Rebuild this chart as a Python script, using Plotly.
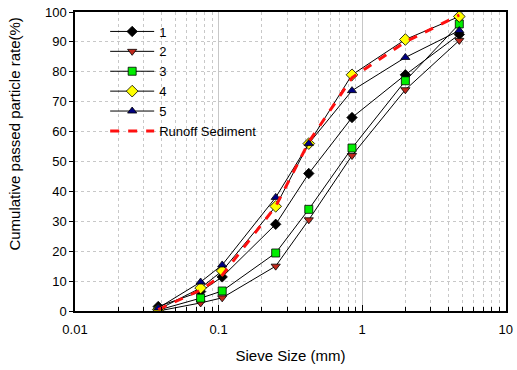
import plotly.graph_objects as go

sieve_mm = [0.038, 0.075, 0.106, 0.25, 0.425, 0.85, 2.0, 4.75]

s1 = [1.5, 6.5, 11.4, 29.0, 46.0, 64.7, 79.0, 92.5]
s2 = [0.0, 2.7, 4.4, 15.0, 30.5, 52.0, 74.0, 90.5]
s3 = [0.3, 4.3, 6.7, 19.4, 34.0, 54.5, 77.0, 96.0]
s4 = [0.5, 7.7, 13.4, 35.0, 56.0, 79.0, 90.8, 98.5]
s5 = [1.0, 9.7, 15.4, 38.0, 56.0, 73.7, 84.8, 93.8]
runoff = [0.5, 7.0, 12.0, 35.0, 56.5, 78.0, 90.0, 99.0]

x_tick_vals = [0.01, 0.1, 1, 10]
x_tick_text = ["0.01", "0.1", "1", "10"]

series = [
    ("1", s1, "diamond", "#000000", 8),
    ("2", s2, "triangle-down", "#c0281c", 8),
    ("3", s3, "square", "#00ee00", 8),
    ("4", s4, "diamond", "#ffff00", 9),
    ("5", s5, "triangle-up", "#000080", 8),
]

fig = go.Figure()
for name, vals, sym, col, size in series:
    fig.add_trace(go.Scatter(
        x=sieve_mm, y=vals, name=name, mode="lines+markers",
        line=dict(color="black", width=1),
        marker=dict(symbol=sym, color=col, size=size,
                    line=dict(color="black", width=0.8)),
    ))

fig.add_trace(go.Scatter(
    x=sieve_mm, y=runoff, name="Runoff Sediment", mode="lines",
    line=dict(color="#ff1010", width=3, dash="dash"),
))

font = dict(family="Liberation Sans, Arial, sans-serif", size=13, color="black")

fig.update_layout(
    width=517, height=370,
    margin=dict(l=75, r=4, t=12, b=59),
    paper_bgcolor="white", plot_bgcolor="white",
    font=font,
    showlegend=True,
    legend=dict(x=0.07, y=0.985, xanchor="left", yanchor="top",
                bgcolor="rgba(0,0,0,0)", font=dict(size=13),
                tracegroupgap=0, itemwidth=44),
    xaxis=dict(
        type="log", range=[-2, 1.002],
        tickvals=x_tick_vals, ticktext=x_tick_text,
        ticklabeloverflow="allow",
        showgrid=True, gridcolor="#c8c8c8", gridwidth=1,
        showline=True, linecolor="black", linewidth=1.5, mirror=True,
        ticks="inside", ticklen=6, tickcolor="black",
        ticklabelstandoff=6,
        minor=dict(dtick="D1", showgrid=True, gridcolor="#c8c8c8",
                   griddash="dot", ticks="inside", ticklen=4, tickcolor="black"),
        title=dict(text="Sieve Size (mm)", standoff=14, font=dict(size=15)),
        zeroline=False,
    ),
    yaxis=dict(
        range=[0, 100], dtick=10,
        showgrid=True, gridcolor="#c8c8c8", griddash="dot",
        showline=True, linecolor="black", linewidth=1.5, mirror=True,
        ticks="outside", ticklen=4, tickcolor="black",
        tickfont=dict(size=13),
        zeroline=False,
    ),
    annotations=[dict(
        text="Cumulative passed particle rate(%)", textangle=-90,
        xref="paper", yref="paper", x=0, y=0.59, xshift=-60,
        xanchor="center", yanchor="middle", showarrow=False,
        font=dict(size=15),
    )],
)

fig.write_html("out.html")
